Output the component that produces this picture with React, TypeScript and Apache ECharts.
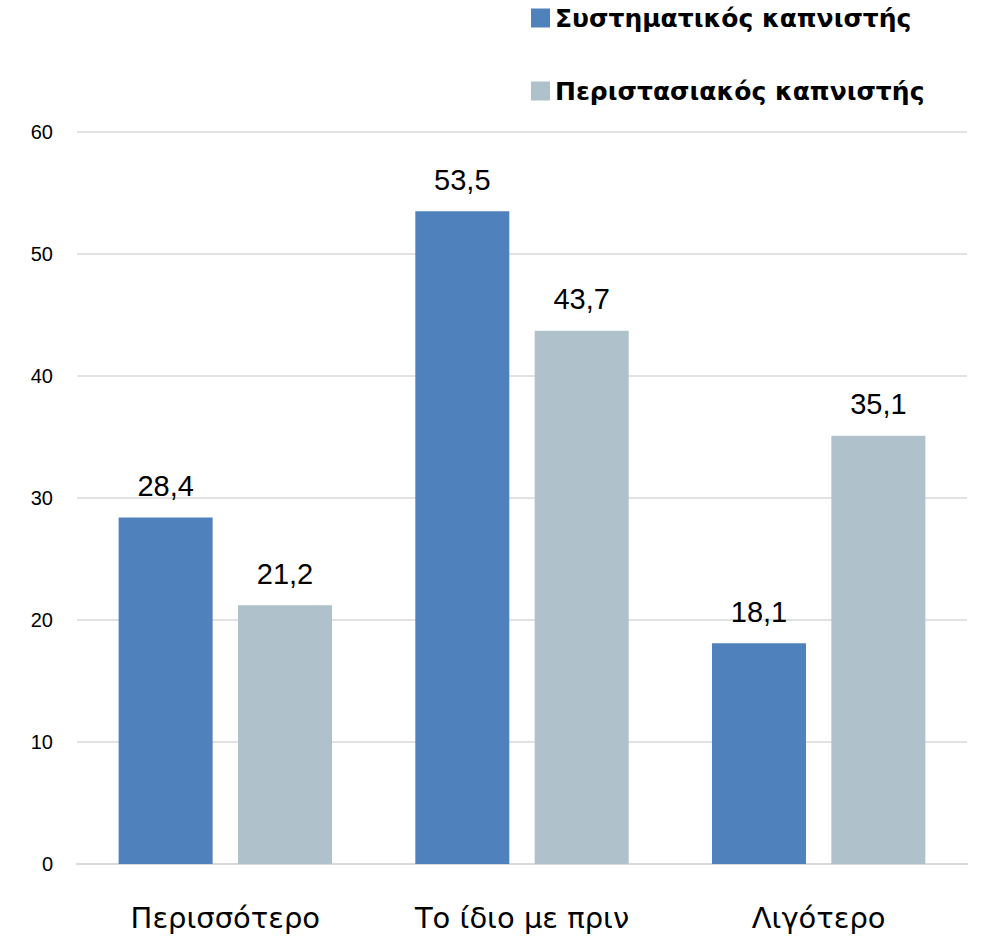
import React, { useEffect, useRef } from "react";
import * as echarts from "echarts";

const categories = ["Περισσότερο", "Το ίδιο με πριν", "Λιγότερο"];
const seriesNames = ["Συστηματικός καπνιστής", "Περιστασιακός καπνιστής"];
const systematic = [28.4, 53.5, 18.1];
const occasional = [21.2, 43.7, 35.1];
const colors = ["#4F81BD", "#AFC1CB"];

export default function App() {
  const ref = useRef<HTMLDivElement>(null);
  useEffect(() => {
    document.body.style.margin = "0";
    const chart = echarts.init(ref.current!, null, { renderer: "svg" });
    const fmt = (p: any) => String(p.value).replace(".", ",");
    const labelStyle = {
      show: true,
      position: "top",
      distance: 17,
      formatter: fmt,
      fontFamily: "Liberation Sans",
      fontSize: 29,
      color: "#000",
    };
    chart.setOption({
      animation: false,
      backgroundColor: "#ffffff",
      grid: { left: 77, right: 19, top: 132, bottom: 77 },
      legend: {
        orient: "vertical",
        left: 526,
        top: -3,
        itemWidth: 19,
        itemHeight: 19,
        itemGap: 41,
        icon: "rect",
        textStyle: {
          fontFamily: "DejaVu Sans",
          fontWeight: "bold",
          fontSize: 25,
          color: "#000",
          lineHeight: 32,
        },
        data: seriesNames,
      },
      xAxis: {
        type: "category",
        data: categories,
        axisLine: { lineStyle: { color: "#d9d9d9", width: 2 } },
        axisTick: { show: false },
        axisLabel: {
          fontFamily: "DejaVu Sans",
          fontSize: 29,
          color: "#000",
          margin: 39,
        },
      },
      yAxis: {
        type: "value",
        min: 0,
        max: 60,
        interval: 10,
        axisLine: { show: false },
        axisTick: { show: false },
        splitLine: { lineStyle: { color: "#d9d9d9", width: 1.5 } },
        axisLabel: {
          fontFamily: "Liberation Sans",
          fontSize: 20,
          color: "#000",
          margin: 24,
        },
      },
      series: [
        {
          name: seriesNames[0],
          type: "bar",
          data: systematic,
          itemStyle: { color: colors[0] },
          barWidth: 94,
          barGap: "27%",
          label: labelStyle,
        },
        {
          name: seriesNames[1],
          type: "bar",
          data: occasional,
          itemStyle: { color: colors[1] },
          barWidth: 94,
          barGap: "27%",
          label: labelStyle,
        },
      ],
    });
    return () => chart.dispose();
  }, []);
  return <div ref={ref} style={{ width: 986, height: 941 }} />;
}
